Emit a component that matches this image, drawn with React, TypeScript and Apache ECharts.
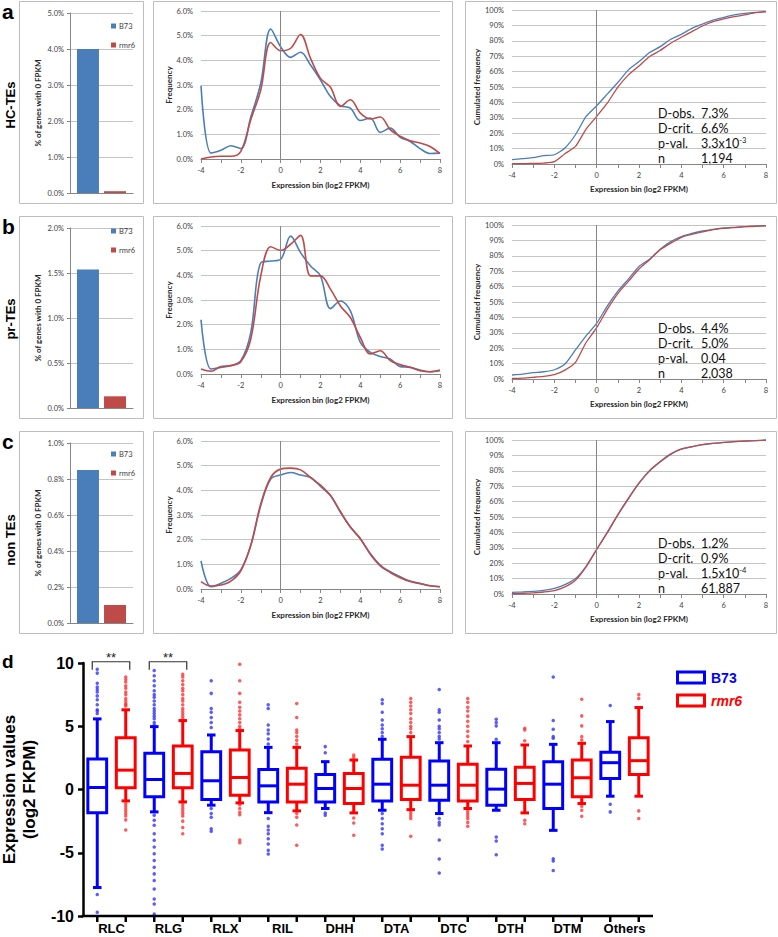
import React, { useEffect, useRef } from 'react';
import * as echarts from 'echarts';

// ---------------- data ----------------
const panelLetters = ['a', 'b', 'c'];
const panelNames = ['HC-TEs', 'pr-TEs', 'non TEs'];

// % of genes with 0 FPKM
const zeroFpkmB73 = [4.0, 1.54, 0.85];
const zeroFpkmRmr6 = [0.05, 0.13, 0.1];
const zeroFpkmAxisMax = [5, 2, 1];
const zeroFpkmAxisStep = [1, 0.5, 0.2];

// expression bins (log2 FPKM)
const expressionBins = [-4, -3.5, -3, -2.5, -2, -1.5, -1, -0.5, 0, 0.5, 1, 1.5, 2, 2.5, 3, 3.5, 4, 4.5, 5, 5.5, 6, 6.5, 7, 7.5, 8];

// frequency (%)
const freqB73HC = [2.97, 0.24, 0.35, 0.54, 0.42, 1.7, 3.07, 5.27, 4.55, 4.12, 4.33, 3.81, 3.2, 2.53, 2.16, 2.06, 1.56, 1.66, 1.08, 1.25, 0.88, 0.71, 0.42, 0.22, 0.24];
const freqRmr6HC = [0.0, 0.08, 0.11, 0.11, 0.31, 1.59, 2.8, 4.72, 4.39, 4.49, 5.05, 4.08, 3.27, 2.91, 2.13, 2.4, 1.86, 1.62, 1.7, 1.19, 0.92, 0.74, 0.65, 0.51, 0.22];
const freqB73PR = [2.2, 0.2, 0.27, 0.34, 0.54, 1.68, 4.51, 4.58, 4.65, 5.59, 4.92, 4.38, 3.98, 2.65, 2.96, 2.56, 1.28, 0.88, 0.71, 0.61, 0.3, 0.27, 0.16, 0.09, 0.13];
const freqRmr6PR = [0.2, 0.11, 0.3, 0.34, 0.5, 1.42, 3.98, 5.16, 5.01, 5.26, 5.62, 3.98, 3.98, 3.44, 2.76, 2.29, 1.48, 0.81, 0.94, 0.54, 0.38, 0.27, 0.13, 0.09, 0.16];
const freqB73Non = [1.14, 0.09, 0.23, 0.43, 0.77, 1.77, 3.38, 4.46, 4.62, 4.72, 4.62, 4.52, 4.16, 3.79, 3.11, 2.51, 2.04, 1.44, 0.97, 0.7, 0.5, 0.32, 0.23, 0.13, 0.09];
const freqRmr6Non = [0.3, 0.12, 0.16, 0.32, 0.74, 1.77, 3.45, 4.52, 4.86, 4.9, 4.83, 4.52, 4.21, 3.79, 3.14, 2.51, 2.04, 1.41, 0.94, 0.67, 0.46, 0.3, 0.21, 0.13, 0.09];

// cumulated frequency (%)
const cumB73HC = [2.8, 3.5, 4.1, 5.4, 6.0, 10.4, 19.0, 30.9, 37.8, 45.4, 52.9, 61.1, 66.5, 72.4, 76.2, 81.0, 84.2, 88.1, 90.9, 93.5, 95.2, 96.8, 97.8, 98.5, 98.9];
const cumRmr6HC = [0.2, 0.2, 0.4, 0.6, 1.5, 6.7, 11.4, 22.7, 30.9, 39.5, 49.9, 57.9, 63.7, 69.8, 73.7, 78.4, 82.3, 86.0, 89.6, 92.4, 94.2, 95.7, 96.8, 98.3, 98.9];
const cumB73PR = [2.6, 3.2, 4.1, 4.7, 6.0, 9.7, 18.9, 28.0, 36.1, 47.3, 57.0, 64.9, 73.1, 77.8, 84.3, 89.2, 92.5, 94.6, 96.1, 97.2, 98.1, 98.5, 98.9, 99.4, 99.6];
const cumRmr6PR = [0.4, 0.6, 1.1, 1.7, 2.8, 5.8, 10.8, 23.7, 33.3, 45.2, 55.5, 63.4, 71.4, 77.4, 83.9, 88.2, 92.0, 93.9, 95.5, 97.0, 97.8, 98.3, 98.9, 99.1, 99.4];
const cumB73Non = [1.1, 1.3, 1.7, 2.4, 3.7, 6.1, 10.0, 18.0, 28.9, 39.7, 51.2, 61.8, 71.8, 79.8, 85.7, 90.7, 94.0, 95.6, 97.0, 97.8, 98.5, 98.9, 99.3, 99.6, 100];
const cumRmr6Non = [0.2, 0.4, 0.7, 1.3, 2.2, 4.6, 8.9, 17.6, 28.9, 40.1, 51.6, 62.3, 72.2, 80.3, 86.1, 91.1, 94.2, 95.7, 97.0, 97.8, 98.5, 98.9, 99.3, 99.6, 100];

const freqB73 = [freqB73HC, freqB73PR, freqB73Non];
const freqRmr6 = [freqRmr6HC, freqRmr6PR, freqRmr6Non];
const cumB73 = [cumB73HC, cumB73PR, cumB73Non];
const cumRmr6 = [cumRmr6HC, cumRmr6PR, cumRmr6Non];

// KS statistics
const statLabels = ['D-obs.', 'D-crit.', 'p-val.', 'n'];
const statsHC = ['7.3%', '6.6%', '3.3x10^-3', '1,194'];
const statsPR = ['4.4%', '5.0%', '0.04', '2,038'];
const statsNon = ['1.2%', '0.9%', '1.5x10^-4', '61,887'];
const statsRows = [statsHC, statsPR, statsNon];

// panel d : boxplots [lower whisker, Q1, median, Q3, upper whisker]
const boxCategories = ['RLC', 'RLG', 'RLX', 'RIL', 'DHH', 'DTA', 'DTC', 'DTH', 'DTM', 'Others'];
const boxB73 = [
  [-7.75, -1.83, 0.16, 2.41, 5.58],
  [-1.77, -0.58, 0.79, 2.86, 4.97],
  [-1.24, -0.79, 0.69, 2.99, 4.31],
  [-1.83, -0.98, 0.29, 1.59, 3.33],
  [-1.5, -0.98, 0.08, 1.19, 2.2],
  [-1.64, -0.9, 0.42, 2.4, 3.97],
  [-1.9, -0.85, 0.34, 2.25, 3.7],
  [-1.64, -1.24, 0.03, 1.61, 3.7],
  [-3.23, -1.5, 0.42, 2.2, 3.57],
  [-0.53, 0.87, 2.12, 2.94, 5.37],
];
const boxRmr6 = [
  [-0.9, 0.13, 1.53, 4.1, 6.3],
  [-0.98, 0.13, 1.27, 3.44, 5.45],
  [-1.06, -0.45, 0.95, 3.12, 4.66],
  [-1.69, -0.98, 0.42, 1.67, 3.33],
  [-1.85, -1.11, 0.08, 1.27, 2.33],
  [-1.59, -0.79, 0.34, 2.54, 4.18],
  [-1.5, -0.9, 0.34, 2.0, 3.44],
  [-1.85, -0.79, 0.48, 1.75, 3.52],
  [-1.11, -0.58, 0.93, 2.33, 3.65],
  [-0.53, 1.19, 2.28, 4.1, 6.48],
];
const outliersB73 = [
  [9.5, 9.2, 8.4, 8.1, 7.9, 7.7, 7.4, 7.1, 6.7, 6.3, 6.2, 6.0, -8.3, -9.7],
  [9.4, 9.0, 8.6, 8.2, 7.8, 7.5, 7.3, 7.0, 6.7, 6.4, 6.2, 6.0, 5.8, 5.6, 5.3, 5.1, -2.04, -2.43, -2.83, -3.49, -4.02, -4.55, -5.08, -5.61, -6.14, -6.67, -7.2, -7.86, -8.65, -9.05, -9.84],
  [8.6, 7.6, 6.4, 6.1, 5.7, 5.3, 4.9, -1.5, -1.9, -2.2, -3.1, -3.3],
  [6.7, 6.4, 5.1, 4.7, 4.4, 4.0, 3.6, -2.3, -2.9, -3.2, -3.5, -3.9, -4.3, -4.8, -5.1],
  [3.39, 2.9, -1.85, -2.04],
  [7.1, 6.8, 6.1, 5.5, 5.1, 4.8, 4.5, 4.2, -1.9, -2.3, -2.7, -3.1, -3.5, -4.4, -4.7],
  [7.9, 6.3, 6.1, 5.5, 5.0, 4.8, 4.5, 4.2, 4.0, -2.3, -2.6, -2.8, -4.0, -5.5, -6.6],
  [5.56, 5.29, 5.03, 3.97, -3.76, -4.07, -5.16],
  [8.89, 5.45, 4.76, 4.18, 4.05, -5.48, -5.66, -6.4],
  [6.64, -1.16, -1.77],
];
const outliersRmr6 = [
  [8.9, 8.7, 8.5, 8.2, 8.0, 7.7, 7.5, 7.2, 7.0, 6.8, 6.7, 6.6, -1.1, -1.3, -1.5, -1.7, -1.9, -2.1, -2.4, -3.2],
  [9.1, 8.9, 8.6, 8.3, 8.0, 7.8, 7.5, 7.2, 7.0, 6.7, 6.4, 6.2, 6.0, 5.8, 5.6, -1.1, -1.3, -1.5, -1.7, -1.9, -2.1, -2.5, -3.0, -3.5],
  [9.9, 8.6, 7.6, 6.9, 6.5, 6.2, 5.9, 5.6, 5.3, 5.0, 4.8, -1.2, -1.5, -1.8, -2.0, -4.0, -4.2],
  [6.8, 5.7, 4.7, 4.5, 4.2, 3.9, 3.6, -1.9, -2.2, -2.8, -4.4],
  [2.72, 2.54, -2.25, -2.65, -3.62],
  [7.2, 6.9, 6.6, 6.3, 6.0, 5.6, 5.3, 5.0, 4.8, 4.5, -1.7, -1.9, -2.1, -2.3, -3.7],
  [7.2, 6.9, 6.5, 6.2, 5.8, 5.4, 5.0, 4.6, 4.2, 3.8, -1.7, -1.9, -2.1, -2.3, -2.6, -2.9],
  [4.84, 4.7, 3.86, -2.43, -2.7],
  [7.14, 5.82, 5.03, 4.18, 3.92, -1.32, -1.64, -2.12],
  [7.5, 7.2, -1.69, -2.3],
];
const significance = [
  { category: 'RLC', mark: '**' },
  { category: 'RLG', mark: '**' },
];

// ---------------- styling ----------------
const BLUE = '#4a7ebb';
const RED = '#be4b48';
const BOX_BLUE = '#0000ff';
const BOX_RED = '#ff0000';
const EXCEL_FONT = 'Lato, "Open Sans", sans-serif';
const ARIAL = '"Liberation Sans", Arial, sans-serif';

// ---------- panels a–c (top chart, 778 x 640) ----------
function buildTopOption() {
  const grid: any[] = [];
  const xAxis: any[] = [];
  const yAxis: any[] = [];
  const series: any[] = [];
  const legend: any[] = [];
  const graphic: any[] = [];

  const rowOffsets = [0, 215, 430];
  const legendTops = [17, 222, 445];
  const axisGray = '#868686';
  const gridGray = '#c4c4c4';
  const labelColor = '#404040';
  const tickLabel = { fontSize: 7.5, color: labelColor, fontFamily: EXCEL_FONT };
  const titleText = { fontSize: 8, fontWeight: 'bold', color: '#262626', fontFamily: EXCEL_FONT };
  const zeroLine = () => ({
    silent: true,
    symbol: 'none',
    label: { show: false },
    lineStyle: { color: axisGray, width: 1, type: 'solid' },
    data: [{ xAxis: 0 }],
  });
  const binAxis = (gi: number, gap: number) => ({
    gridIndex: gi,
    type: 'value',
    min: -4,
    max: 8,
    interval: 2,
    name: 'Expression bin (log2 FPKM)',
    nameLocation: 'middle',
    nameGap: gap,
    nameTextStyle: titleText,
    axisLine: { show: true, onZero: false, lineStyle: { color: axisGray } },
    axisTick: { show: true, length: 4, lineStyle: { color: axisGray } },
    minorTick: { show: true, splitNumber: 2, length: 4, lineStyle: { color: axisGray } },
    axisLabel: { ...tickLabel, margin: 7 },
    splitLine: { show: false },
  });

  const statRich = { sup: { fontSize: 7.5, fontFamily: EXCEL_FONT, verticalAlign: 'top' } };

  for (let r = 0; r < 3; r++) {
    const off = rowOffsets[r];

    [[19, 124], [153, 299], [465, 311]].forEach(([x, w]) => {
      graphic.push({
        type: 'rect',
        silent: true,
        shape: { x: x + 0.5, y: off + 1.5, width: w, height: 202 },
        style: { fill: 'none', stroke: '#bdbdbd', lineWidth: 1 },
      });
    });
    graphic.push({
      type: 'text',
      x: 2,
      y: off + 1,
      style: { text: panelLetters[r], fontSize: 21, fontWeight: 'bold', fontFamily: ARIAL, fill: '#000', verticalAlign: 'top' },
    });
    graphic.push({
      type: 'text',
      x: 10,
      y: [105, 319, 540][r],
      rotation: Math.PI / 2,
      style: { text: panelNames[r], fontSize: 13, fontWeight: 'bold', fontFamily: ARIAL, fill: '#000', align: 'center', verticalAlign: 'middle' },
    });

    // bar chart
    const gBar = grid.length;
    grid.push({ left: 70, top: 13 + off, width: 63, height: 180 });
    xAxis.push({
      gridIndex: gBar,
      type: 'category',
      data: [''],
      axisLine: { show: true, lineStyle: { color: axisGray } },
      axisTick: { show: false },
      axisLabel: { show: false },
    });
    yAxis.push({
      gridIndex: gBar,
      type: 'value',
      min: 0,
      max: zeroFpkmAxisMax[r],
      interval: zeroFpkmAxisStep[r],
      name: '% of genes with 0 FPKM',
      nameLocation: 'middle',
      nameGap: 28,
      nameTextStyle: titleText,
      axisLine: { show: true, lineStyle: { color: axisGray } },
      axisTick: { show: true, length: 3, lineStyle: { color: axisGray } },
      axisLabel: { ...tickLabel, margin: 6, formatter: (v: number) => v.toFixed(1) + '%' },
      splitLine: { show: true, lineStyle: { color: gridGray } },
    });
    series.push({
      type: 'bar', name: 'B73', xAxisIndex: gBar, yAxisIndex: gBar,
      data: [zeroFpkmB73[r]], barWidth: 22, barGap: '23%', itemStyle: { color: BLUE },
    });
    series.push({
      type: 'bar', name: 'rmr6', xAxisIndex: gBar, yAxisIndex: gBar,
      data: [zeroFpkmRmr6[r]], barWidth: 22, barGap: '23%', itemStyle: { color: RED },
    });
    legend.push({
      data: ['B73', 'rmr6'],
      orient: 'vertical',
      left: 106,
      top: legendTops[r],
      icon: 'rect',
      itemWidth: 5,
      itemHeight: 5,
      itemGap: 11,
      selectedMode: false,
      textStyle: { fontSize: 7.5, color: labelColor, fontFamily: EXCEL_FONT, padding: [0, 0, 0, -2] },
    });

    // frequency chart
    const gFreq = grid.length;
    grid.push({ left: 201, top: 11 + off, width: 239, height: 148 });
    xAxis.push(binAxis(gFreq, 22));
    yAxis.push({
      gridIndex: gFreq,
      type: 'value',
      min: 0,
      max: 6,
      interval: 1,
      name: 'Frequency',
      nameLocation: 'middle',
      nameGap: 28,
      nameTextStyle: titleText,
      axisLine: { show: false },
      axisTick: { show: false },
      axisLabel: { ...tickLabel, margin: 8, formatter: (v: number) => v.toFixed(1) + '%' },
      splitLine: { show: true, lineStyle: { color: gridGray } },
    });
    series.push({
      type: 'line', name: 'B73 frequency', xAxisIndex: gFreq, yAxisIndex: gFreq,
      data: expressionBins.map((x, i) => [x, freqB73[r][i]]),
      smooth: 0.35, showSymbol: false, symbol: 'none',
      lineStyle: { color: BLUE, width: 1.6 }, itemStyle: { color: BLUE },
      markLine: zeroLine(), z: 3,
    });
    series.push({
      type: 'line', name: 'rmr6 frequency', xAxisIndex: gFreq, yAxisIndex: gFreq,
      data: expressionBins.map((x, i) => [x, freqRmr6[r][i]]),
      smooth: 0.35, showSymbol: false, symbol: 'none',
      lineStyle: { color: RED, width: 1.6 }, itemStyle: { color: RED }, z: 4,
    });

    // cumulative chart
    const gCum = grid.length;
    grid.push({ left: 512, top: 10 + off, width: 254, height: 154 });
    xAxis.push(binAxis(gCum, 21));
    yAxis.push({
      gridIndex: gCum,
      type: 'value',
      min: 0,
      max: 100,
      interval: 10,
      name: 'Cumulated frequency',
      nameLocation: 'middle',
      nameGap: 30,
      nameTextStyle: titleText,
      axisLine: { show: false },
      axisTick: { show: false },
      axisLabel: { ...tickLabel, margin: 8, formatter: (v: number) => v + '%' },
      splitLine: { show: true, lineStyle: { color: gridGray } },
    });
    series.push({
      type: 'line', name: 'B73 cumulated', xAxisIndex: gCum, yAxisIndex: gCum,
      data: expressionBins.map((x, i) => [x, cumB73[r][i]]),
      smooth: 0.2, showSymbol: false, symbol: 'none',
      lineStyle: { color: BLUE, width: 1.3 }, itemStyle: { color: BLUE },
      markLine: zeroLine(), z: 3,
    });
    series.push({
      type: 'line', name: 'rmr6 cumulated', xAxisIndex: gCum, yAxisIndex: gCum,
      data: expressionBins.map((x, i) => [x, cumRmr6[r][i]]),
      smooth: 0.2, showSymbol: false, symbol: 'none',
      lineStyle: { color: RED, width: 1.3 }, itemStyle: { color: RED }, z: 4,
    });

    statLabels.forEach((lab, i) => {
      const y = off + 113 + i * 15;
      graphic.push({
        type: 'text', x: 658, y,
        style: { text: lab, fontSize: 12.5, fontFamily: EXCEL_FONT, fill: '#111', verticalAlign: 'middle' },
      });
      const raw = statsRows[r][i];
      const parts = raw.split('^');
      const text = parts.length > 1 ? `${parts[0]}{sup|${parts[1]}}` : raw;
      graphic.push({
        type: 'text', x: 701, y,
        style: { text, rich: statRich, fontSize: 12.5, fontFamily: EXCEL_FONT, fill: '#111', verticalAlign: 'middle' },
      });
    });
  }

  return { animation: false, backgroundColor: '#fff', grid, xAxis, yAxis, legend, series, graphic };
}

// ---------- panel d (bottom chart, 778 x 297, placed at y = 640) ----------
const slotNames: string[] = [];
boxCategories.forEach((c) => { slotNames.push(c + ' B73'); slotNames.push(c + ' rmr6'); });

function buildBoxOption(axisGraphic: any[]) {
  const renderBox = (params: any, api: any) => {
    const slot = api.value(0);
    const pMin = api.coord([slot, api.value(1)]);
    const pQ1 = api.coord([slot, api.value(2)]);
    const pMed = api.coord([slot, api.value(3)]);
    const pQ3 = api.coord([slot, api.value(4)]);
    const pMax = api.coord([slot, api.value(5)]);
    const band = api.size([1, 0])[0];
    const hw = band * 0.33;
    const cw = band * 0.15;
    const color = api.visual('color');
    const x = pMed[0];
    const ls = { stroke: color, lineWidth: 3, fill: 'none' };
    return {
      type: 'group',
      children: [
        { type: 'line', shape: { x1: x, y1: pQ3[1], x2: x, y2: pMax[1] }, style: ls },
        { type: 'line', shape: { x1: x, y1: pQ1[1], x2: x, y2: pMin[1] }, style: ls },
        { type: 'line', shape: { x1: x - cw, y1: pMax[1], x2: x + cw, y2: pMax[1] }, style: ls },
        { type: 'line', shape: { x1: x - cw, y1: pMin[1], x2: x + cw, y2: pMin[1] }, style: ls },
        { type: 'rect', shape: { x: x - hw, y: pQ3[1], width: hw * 2, height: pQ1[1] - pQ3[1] }, style: { stroke: color, lineWidth: 3, fill: '#fff' } },
        { type: 'line', shape: { x1: x - hw, y1: pMed[1], x2: x + hw, y2: pMed[1] }, style: ls },
      ],
    };
  };

  return {
    animation: false,
    backgroundColor: '#fff',
    grid: [{ left: 83, top: 23, width: 570, height: 253, containLabel: false, outerBoundsMode: 'none' }],
    xAxis: [
      {
        gridIndex: 0,
        type: 'category',
        position: 'bottom',
        data: slotNames,
        axisLine: { show: false, onZero: false },
        axisTick: { show: false },
        axisLabel: { show: false },
        splitLine: { show: false },
      },
      {
        gridIndex: 0,
        type: 'category',
        position: 'bottom',
        data: boxCategories,
        axisLine: { show: false, onZero: false },
        axisTick: { show: false },
        axisLabel: { fontSize: 13, fontWeight: 'bold', color: '#000', fontFamily: ARIAL, margin: 6 },
        splitLine: { show: false },
      },
    ],
    yAxis: [
      {
        gridIndex: 0,
        type: 'value',
        min: -10,
        max: 10,
        interval: 5,
        name: 'Expression values\n(log2 FKPM)',
        nameLocation: 'middle',
        nameGap: 26,
        nameTextStyle: { fontSize: 17, fontWeight: 'bold', color: '#000', fontFamily: ARIAL, lineHeight: 20 },
        axisLine: { show: true, lineStyle: { color: '#000', width: 2.5 } },
        axisTick: { show: true, length: 5, lineStyle: { color: '#000', width: 2.5 } },
        axisLabel: { fontSize: 16, fontWeight: 'bold', color: '#000', fontFamily: ARIAL, margin: 9 },
        splitLine: { show: false },
      },
    ],
    series: [
      {
        type: 'scatter', name: 'B73 outliers', xAxisIndex: 0, yAxisIndex: 0,
        symbol: 'circle', symbolSize: 3.5, itemStyle: { color: '#3535ff' }, z: 2,
        data: outliersB73.flatMap((vals, i) => vals.map((v) => [2 * i, v])),
      },
      {
        type: 'scatter', name: 'rmr6 outliers', xAxisIndex: 0, yAxisIndex: 0,
        symbol: 'circle', symbolSize: 3.5, itemStyle: { color: '#ff3535' }, z: 2,
        data: outliersRmr6.flatMap((vals, i) => vals.map((v) => [2 * i + 1, v])),
      },
      {
        type: 'custom', name: 'B73', xAxisIndex: 0, yAxisIndex: 0,
        renderItem: renderBox, itemStyle: { color: BOX_BLUE }, z: 3,
        encode: { x: 0, y: [1, 2, 3, 4, 5] },
        data: boxB73.map((b, i) => [2 * i, ...b]),
      },
      {
        type: 'custom', name: 'rmr6', xAxisIndex: 0, yAxisIndex: 0,
        renderItem: renderBox, itemStyle: { color: BOX_RED }, z: 3,
        encode: { x: 0, y: [1, 2, 3, 4, 5] },
        data: boxRmr6.map((b, i) => [2 * i + 1, ...b]),
      },
      {
        type: 'custom', name: 'significance', xAxisIndex: 0, yAxisIndex: 0,
        clip: false, z: 5,
        encode: { x: [0, 1], y: 2 },
        data: significance.map((s) => {
          const c = boxCategories.indexOf(s.category);
          return [2 * c, 2 * c + 1, 10.1];
        }),
        renderItem: (params: any, api: any) => {
          const pB = api.coord([api.value(0), api.value(2)]);
          const pR = api.coord([api.value(1), api.value(2)]);
          const x1 = pB[0] - 5;
          const x2 = pR[0] + 4;
          const y = pB[1];
          return {
            type: 'group',
            children: [
              { type: 'polyline', shape: { points: [[x1, y + 8], [x1, y], [x2, y], [x2, y + 8]] }, style: { stroke: '#333', lineWidth: 1.2, fill: 'none' } },
              { type: 'text', x: (x1 + x2) / 2, y: y - 4, style: { text: significance[params.dataIndex].mark, fontSize: 13, fontFamily: ARIAL, fill: '#222', align: 'center', verticalAlign: 'middle' } },
            ],
          };
        },
      },
    ],
    graphic: [
      { type: 'text', x: 2, y: 12, style: { text: 'd', fontSize: 19, fontWeight: 'bold', fontFamily: ARIAL, fill: '#000', verticalAlign: 'top' } },
      { type: 'rect', shape: { x: 677.5, y: 32, width: 27, height: 11 }, style: { fill: 'none', stroke: BOX_BLUE, lineWidth: 3 } },
      { type: 'text', x: 711, y: 38, style: { text: 'B73', fontSize: 14, fontWeight: 'bold', fontFamily: ARIAL, fill: BOX_BLUE, verticalAlign: 'middle' } },
      { type: 'rect', shape: { x: 677.5, y: 55, width: 27, height: 11 }, style: { fill: 'none', stroke: BOX_RED, lineWidth: 3 } },
      { type: 'text', x: 711, y: 61, style: { text: 'rmr6', fontSize: 14, fontWeight: 'bold', fontStyle: 'italic', fontFamily: ARIAL, fill: BOX_RED, verticalAlign: 'middle' } },
      ...axisGraphic,
    ],
  };
}

// bottom axis line + one tick per box, placed with the chart's own scale
function buildAxisGraphic(chart: any) {
  const pts = slotNames.map((_, i) => chart.convertToPixel({ xAxisIndex: 0, yAxisIndex: 0 }, [i, -10]));
  if (!pts.length || !pts[0] || !isFinite(pts[0][1])) return [];
  const band = pts.length > 1 ? pts[1][0] - pts[0][0] : 28;
  const y = pts[0][1];
  const els: any[] = [
    { type: 'line', z: 10, shape: { x1: pts[0][0] - band / 2 - 1.25, y1: y, x2: pts[pts.length - 1][0] + band / 2, y2: y }, style: { stroke: '#000', lineWidth: 2.5 } },
  ];
  pts.forEach((p: number[]) => {
    els.push({ type: 'line', z: 10, shape: { x1: p[0], y1: y, x2: p[0], y2: y + 6 }, style: { stroke: '#000', lineWidth: 2.5 } });
  });
  return els;
}

export default function App() {
  const topRef = useRef<HTMLDivElement>(null);
  const boxRef = useRef<HTMLDivElement>(null);
  useEffect(() => {
    if (!topRef.current || !boxRef.current) return;
    const top = echarts.init(topRef.current, null, { renderer: 'svg' });
    top.setOption(buildTopOption() as any);
    const box = echarts.init(boxRef.current, null, { renderer: 'svg' });
    box.setOption(buildBoxOption([]) as any);
    const axisEls = buildAxisGraphic(box);
    box.setOption(buildBoxOption(axisEls) as any, true);
    return () => {
      top.dispose();
      box.dispose();
    };
  }, []);
  return (
    <div style={{ position: 'fixed', left: 0, top: 0, width: 778, height: 937, background: '#fff' }}>
      <div ref={topRef} style={{ position: 'absolute', left: 0, top: 0, width: 778, height: 640 }} />
      <div ref={boxRef} style={{ position: 'absolute', left: 0, top: 640, width: 778, height: 297 }} />
    </div>
  );
}
